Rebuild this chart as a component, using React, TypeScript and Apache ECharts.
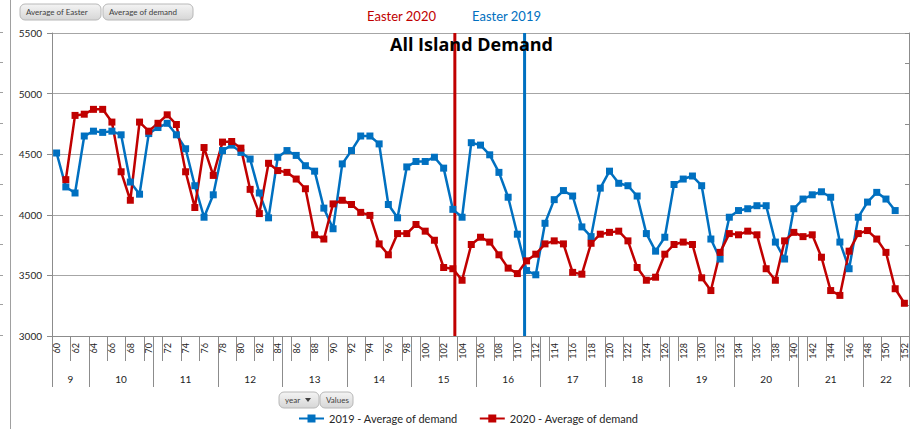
import React, { useEffect, useRef } from "react";
import * as echarts from "echarts";

const categories = [
  "60","61","62","63","64","65","66","67","68","69","70","71","72","73","74","75","76","77","78","79",
  "80","81","82","83","84","85","86","87","88","89","90","91","92","93","94","95","96","97","98","99",
  "100","101","102","103","104","105","106","107","108","109","110","111","112","113","114","115","116","117","118","119",
  "120","121","122","123","124","125","126","127","128","129","130","131","132","133","134","135","136","137","138","139",
  "140","141","142","143","144","145","146","147","148","149","150","151","152",
];

const demand2019 = [
  4510, 4230, 4180, 4650, 4690, 4680, 4690, 4660, 4270, 4170,
  4670, 4720, 4755, 4660, 4545, 4240, 3980, 4165, 4530, 4575,
  4515, 4460, 4180, 3975, 4475, 4530, 4490, 4405, 4360, 4055,
  3885, 4420, 4530, 4650, 4650, 4585, 4085, 3975, 4395, 4440,
  4440, 4475, 4385, 4045, 3980, 4595, 4575, 4495, 4350, 4145,
  3840, 3540, 3505, 3930, 4125, 4200, 4155, 3900, 3820, 4220,
  4360, 4260, 4240, 4155, 3845, 3700, 3815, 4250, 4295, 4320,
  4240, 3800, 3635, 3980, 4035, 4050, 4075, 4075, 3775, 3635,
  4050, 4130, 4165, 4190, 4145, 3775, 3555, 3980, 4105, 4185,
  4130, 4035, null,
];

const demand2020 = [
  null, 4290, 4820, 4830, 4870, 4870, 4765, 4355, 4120, 4765,
  4690, 4755, 4825, 4745, 4355, 4060, 4555, 4325, 4600, 4605,
  4550, 4210, 4010, 4425, 4365, 4350, 4295, 4215, 3835, 3800,
  4090, 4120, 4085, 4020, 3995, 3760, 3670, 3845, 3845, 3920,
  3865, 3790, 3565, 3555, 3460, 3755, 3815, 3775, 3670, 3560,
  3515, 3620, 3675, 3760, 3785, 3760, 3525, 3510, 3765, 3840,
  3855, 3865, 3785, 3565, 3460, 3485, 3675, 3755, 3775, 3755,
  3480, 3375, 3690, 3845, 3835, 3865, 3835, 3555, 3460, 3785,
  3855, 3820, 3835, 3650, 3375, 3335, 3700, 3845, 3870, 3800,
  3690, 3390, 3270,
];

const easterDay2019 = "111";
const easterDay2020 = "103";

const weekLabels = ["9","10","11","12","13","14","15","16","17","18","19","20","21","22"];
const weekStartDays = ["60","64","71","78","85","92","99","106","113","120","127","134","141","148"];

const yMin = 3000;
const yMax = 5500;
const yStep = 500;

const seriesNames = ["2019 - Average of demand", "2020 - Average of demand"];

const BLUE = "#0070C0";
const RED = "#C00000";
const FONT = "Lato, 'Open Sans', sans-serif";

const easter2019 = categories.map((c) => (c === easterDay2019 ? 1 : null));
const easter2020 = categories.map((c) => (c === easterDay2020 ? 1 : null));

const startIdx = weekStartDays.map((d) => categories.indexOf(d));
const groupLabelAt: Record<number, { label: string; half: boolean }> = {};
startIdx.forEach((s, g) => {
  const e = g + 1 < startIdx.length ? startIdx[g + 1] - 1 : categories.length - 1;
  const len = e - s + 1;
  const mid = s + Math.floor((len - 1) / 2);
  groupLabelAt[mid] = { label: weekLabels[g], half: len % 2 === 0 };
});

const gradFill = {
  type: "linear",
  x: 0,
  y: 0,
  x2: 0,
  y2: 1,
  colorStops: [
    { offset: 0, color: "#f4f4f4" },
    { offset: 1, color: "#d6d6d6" },
  ],
};

function button(x: number, y: number, w: number, h: number, label: string, arrow = false) {
  const children: any[] = [
    {
      type: "rect",
      shape: { x: 0, y: 0, width: w, height: h, r: 5 },
      style: { fill: gradFill, stroke: "#b8b8b8", lineWidth: 1 },
    },
    {
      type: "text",
      x: 6,
      y: h / 2,
      style: { text: label, fontSize: 8, fill: "#404040", verticalAlign: "middle", fontFamily: FONT },
    },
  ];
  if (arrow) {
    children.push({
      type: "polygon",
      shape: { points: [[w - 14, h / 2 - 2], [w - 8, h / 2 - 2], [w - 11, h / 2 + 2]] },
      style: { fill: "#404040" },
    });
  }
  return { type: "group", x, y, children };
}

const leftTickYs = [32, 62, 92, 123, 154, 184, 215, 244, 275, 304, 335];

export default function App() {
  const ref = useRef<HTMLDivElement>(null);

  useEffect(() => {
    if (!ref.current) return;
    const chart = echarts.init(ref.current, undefined, { renderer: "svg" });

    const option: any = {
      animation: false,
      backgroundColor: "#ffffff",
      textStyle: { fontFamily: FONT },
      title: {
        text: "All Island Demand",
        left: 390,
        top: 35,
        padding: 0,
        textStyle: { fontSize: 18, fontWeight: "bold", color: "#000", fontFamily: "'Open Sans', Lato, sans-serif" },
      },
      legend: {
        data: seriesNames,
        left: 298,
        top: 413,
        padding: 0,
        itemWidth: 25,
        itemHeight: 10,
        itemGap: 21,
        textStyle: { fontSize: 11, color: "#262626", fontFamily: FONT },
      },
      grid: { left: 52, right: 7, top: 33, bottom: 93, containLabel: false },
      xAxis: [
        {
          type: "category",
          data: categories,
          boundaryGap: true,
          position: "bottom",
          axisLine: { show: true, lineStyle: { color: "#8c8c8c", width: 1 } },
          axisTick: { show: true, interval: 1, length: 25, lineStyle: { color: "#8c8c8c" } },
          axisLabel: { interval: 1, rotate: 90, fontSize: 9, color: "#222", margin: 7, fontFamily: FONT },
          splitLine: { show: false },
        },
        {
          type: "category",
          data: categories,
          boundaryGap: true,
          position: "bottom",
          offset: 0,
          axisLine: { show: false },
          axisTick: {
            show: true,
            interval: (index: number) => startIdx.includes(index),
            length: 51,
            lineStyle: { color: "#8c8c8c" },
          },
          axisLabel: {
            interval: (index: number) => !!groupLabelAt[index],
            formatter: (_v: string, index: number) => {
              const g = groupLabelAt[index];
              if (!g) return "";
              return g.half ? `{h|${g.label}}` : `{n|${g.label}}`;
            },
            margin: 38,
            fontSize: 10,
            color: "#222",
            fontFamily: FONT,
            rich: {
              h: { padding: [0, 0, 0, 9], fontSize: 10, color: "#222", fontFamily: FONT },
              n: { fontSize: 10, color: "#222", fontFamily: FONT },
            },
          },
          splitLine: { show: false },
        },
      ],
      yAxis: [
        {
          type: "value",
          min: yMin,
          max: yMax,
          interval: yStep,
          axisLine: { show: true, lineStyle: { color: "#8c8c8c" } },
          axisTick: { show: true, length: 5, lineStyle: { color: "#8c8c8c" } },
          axisLabel: {
            fontSize: 10,
            color: "#262626",
            margin: 10,
            fontFamily: FONT,
            formatter: (v: number) => String(v),
          },
          splitLine: { show: true, lineStyle: { color: "#a6a6a6", width: 1 } },
        },
        {
          type: "value",
          position: "right",
          min: 0,
          max: 1,
          interval: 0.1,
          axisLine: { show: true, lineStyle: { color: "#8c8c8c" } },
          axisTick: { show: true, inside: true, length: 4, lineStyle: { color: "#8c8c8c" } },
          axisLabel: { show: false },
          splitLine: { show: false },
        },
      ],
      series: [
        {
          name: "2019 - Average of Easter",
          type: "bar",
          xAxisIndex: 0,
          yAxisIndex: 1,
          data: easter2019,
          barWidth: 3,
          barGap: "33%",
          itemStyle: { color: BLUE },
          z: 1,
        },
        {
          name: "2020 - Average of Easter",
          type: "bar",
          xAxisIndex: 0,
          yAxisIndex: 1,
          data: easter2020,
          barWidth: 3,
          barGap: "33%",
          itemStyle: { color: RED },
          z: 1,
        },
        {
          name: seriesNames[0],
          type: "line",
          xAxisIndex: 0,
          yAxisIndex: 0,
          data: demand2019,
          symbol: "rect",
          symbolSize: 7,
          showAllSymbol: true,
          lineStyle: { color: BLUE, width: 2.5 },
          itemStyle: { color: BLUE },
          z: 3,
        },
        {
          name: seriesNames[1],
          type: "line",
          xAxisIndex: 0,
          yAxisIndex: 0,
          data: demand2020,
          symbol: "rect",
          symbolSize: 7,
          showAllSymbol: true,
          lineStyle: { color: RED, width: 2.5 },
          itemStyle: { color: RED },
          z: 3,
        },
      ],
      graphic: [
        {
          type: "line",
          shape: { x1: 10.5, y1: 0, x2: 10.5, y2: 429 },
          style: { stroke: "#a0a0a0", lineWidth: 1 },
        },
        ...leftTickYs.map((y) => ({
          type: "line",
          shape: { x1: 0, y1: y + 0.5, x2: 3, y2: y + 0.5 },
          style: { stroke: "#a0a0a0", lineWidth: 1 },
        })),
        {
          type: "text",
          x: 367,
          y: 16,
          style: { text: "Easter 2020", fontSize: 13, fill: RED, verticalAlign: "middle", fontFamily: FONT },
        },
        {
          type: "text",
          x: 472,
          y: 16,
          style: { text: "Easter 2019", fontSize: 13, fill: BLUE, verticalAlign: "middle", fontFamily: FONT },
        },
        button(20, 4, 81, 16, "Average of Easter"),
        button(103, 4, 90, 16, "Average of demand"),
        button(279, 392, 40, 16, "year", true),
        button(320, 392, 33, 16, "Values"),
      ],
    };

    chart.setOption(option);
    return () => {
      chart.dispose();
    };
  }, []);

  return (
    <div
      ref={ref}
      style={{ position: "absolute", left: 0, top: 0, width: 916, height: 429 }}
    />
  );
}
